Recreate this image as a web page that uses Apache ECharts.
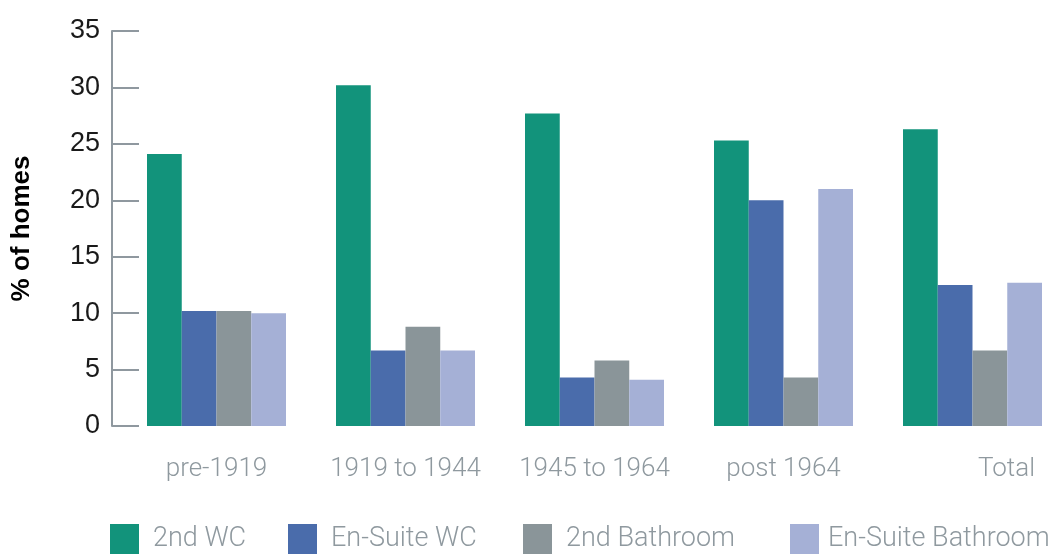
<!DOCTYPE html>
<html>
<head>
<meta charset="utf-8">
<script src="https://cdn.jsdelivr.net/npm/echarts@6/dist/echarts.min.js"></script>
<style>
  html, body { margin: 0; padding: 0; background: #fff; overflow: hidden; }
  /* a bit wider than the window: the last bar group is cut at the right edge */
  #chart { width: 1067px; height: 554px; }
</style>
</head>
<body>
<div id="chart"></div>
<script>
const categories = ['pre-1919', '1919 to 1944', '1945 to 1964', 'post 1964', 'Total']
const secondWC = [24.1, 30.2, 27.7, 25.3, 26.3]
const enSuiteWC = [10.2, 6.7, 4.3, 20.0, 12.5]
const secondBathroom = [10.2, 8.8, 5.8, 4.3, 6.7]
const enSuiteBathroom = [10.0, 6.7, 4.1, 21.0, 12.7]
const yTicks = { min: 0, max: 35, interval: 5 }

const seriesNames = ['2nd WC', 'En-Suite WC', '2nd Bathroom', 'En-Suite Bathroom']
const seriesData = [secondWC, enSuiteWC, secondBathroom, enSuiteBathroom]
const colors = ['#12937b', '#4a6cab', '#8a9599', '#a5b0d6']
const legendLeft = [110, 288, 523, 790]

const axisGrey = '#8f989f'
const labelGrey = '#8f999f'
const font = 'Roboto'

const chart = echarts.init(document.getElementById('chart'))

const option = {
  animation: false,
  backgroundColor: '#fff',
  color: colors,
  // one legend per item, the gaps in the original are uneven
  legend: seriesNames.map((name, i) => ({
    data: [name],
    left: legendLeft[i],
    top: 524,
    icon: 'rect',
    itemWidth: 29,
    itemHeight: 30,
    itemGap: 0,
    padding: 0,
    textStyle: { fontFamily: font, fontWeight: 300, fontSize: 27, color: labelGrey, padding: [10, 0, 0, i === 3 ? 4 : 9] }
  })),
  grid: { left: 122, top: 31, right: 0, bottom: 128 },
  xAxis: {
    type: 'category',
    data: categories.map(c => c === 'Total'
      ? { value: c, textStyle: { padding: [0, 0, 0, 68] } }
      : c),
    axisLine: { show: false },
    axisTick: { show: false },
    axisLabel: { interval: 0, fontFamily: font, fontWeight: 300, fontSize: 26, color: labelGrey, margin: 30 }
  },
  yAxis: {
    type: 'value',
    min: yTicks.min,
    max: yTicks.max,
    interval: yTicks.interval,
    offset: 10,
    name: '% of homes',
    nameLocation: 'middle',
    nameRotate: 90,
    nameGap: 77,
    nameTextStyle: { fontFamily: 'Liberation Sans', fontWeight: 'bold', fontSize: 26, color: '#000' },
    axisLine: { show: true, lineStyle: { color: axisGrey, width: 2 } },
    axisTick: { show: true, inside: true, length: 27, lineStyle: { color: axisGrey, width: 2 } },
    axisLabel: { fontFamily: 'Liberation Sans', fontSize: 27, color: '#1a1a1a', margin: 12 },
    splitLine: { show: false }
  },
  series: seriesNames.map((name, i) => ({
    name: name,
    type: 'bar',
    data: seriesData[i],
    barWidth: 34.75,
    barGap: '0%',
    itemStyle: { color: colors[i] }
  }))
}

chart.setOption(option)
</script>
</body>
</html>
